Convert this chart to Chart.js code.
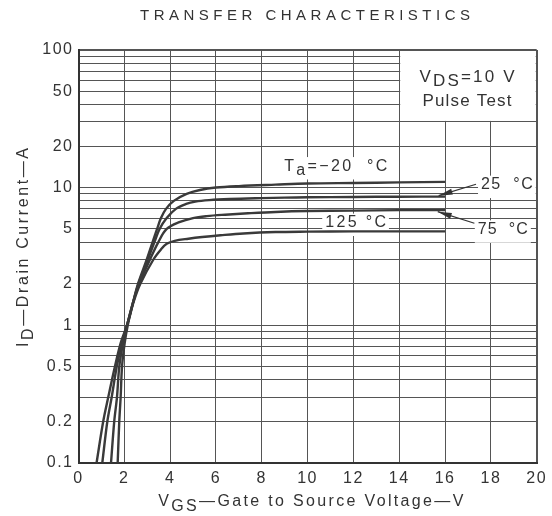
<!DOCTYPE html>
<html><head><meta charset="utf-8">
<script src="https://cdn.jsdelivr.net/npm/chart.js@4.4.1/dist/chart.umd.min.js"></script>
<style>html,body{margin:0;padding:0;background:#fff;}#wrap{width:552px;height:516px;}</style>
</head><body><div id="wrap"><canvas id="c" width="552" height="516"></canvas></div>
<script>
// ---------- data ----------
const chartTitle = 'TRANSFER CHARACTERISTICS';
const xTickValues = [0,2,4,6,8,10,12,14,16,18,20];
const yGridValues = [0.1,0.2,0.3,0.4,0.5,0.6,0.7,0.8,0.9,1,2,3,4,5,6,7,8,9,10,20,30,40,50,60,70,80,90,100];
const yTickLabels = [0.1,0.2,0.5,1,2,5,10,20,50,100];
const tempLabels = ['−20','25','75','125'];

const vgsM20 = [1.71,1.78,1.84,1.90,2.02,2.15,2.40,2.60,2.98,3.23,3.43,3.60,3.82,4.16,4.72,5.30,6.00,7.00,8.60,10.0,12.0,14.0,16.0];
const idM20  = [0.10,0.20,0.30,0.50,0.75,1.00,1.50,2.00,3.00,4.00,5.00,6.00,7.00,8.00,9.00,9.60,10.0,10.25,10.5,10.7,10.8,10.9,11.0];
const vgs25  = [1.42,1.56,1.68,1.78,1.95,2.12,2.40,2.62,3.03,3.31,3.54,3.85,4.25,4.70,5.10,5.70,6.60,8.00,9.00,10.0,12.0,14.0,16.0];
const id25   = [0.10,0.20,0.30,0.50,0.75,1.00,1.50,2.00,3.00,4.00,5.00,6.00,7.00,7.60,7.90,8.10,8.25,8.38,8.45,8.50,8.55,8.58,8.60];
const vgs75  = [1.04,1.26,1.45,1.67,1.90,2.12,2.40,2.65,3.12,3.48,3.85,4.40,5.00,5.60,6.40,7.40,8.60,10.0,12.0,14.0,16.0];
const id75   = [0.10,0.20,0.30,0.50,0.75,1.00,1.50,2.00,3.00,4.00,5.00,5.60,6.00,6.20,6.35,6.50,6.65,6.75,6.80,6.85,6.85];
const vgs125 = [0.79,1.08,1.30,1.59,1.85,2.12,2.42,2.70,3.27,3.60,3.85,4.20,4.80,5.40,6.20,7.20,8.60,10.0,12.0,14.0,16.0];
const id125  = [0.10,0.20,0.30,0.50,0.75,1.00,1.50,2.00,3.00,3.55,3.90,4.10,4.25,4.37,4.50,4.64,4.75,4.78,4.80,4.80,4.80];

// ---------- helpers ----------
const FONT = '"Liberation Sans", Arial, Helvetica, sans-serif';
const INK = '#333';
const toPts = (xs, ys) => xs.map((x, i) => ({x, y: ys[i]}));

function measureParts(ctx, parts) {
  let w = 0; parts.forEach(p => { w += ctx.measureText(p[0]).width; }); return w;
}
function drawRich(ctx, x, y, parts, o) {
  ctx.save();
  ctx.font = o.font; ctx.letterSpacing = '0px';
  let n = 0; parts.forEach(p => n += p[0].length);
  let ls = 0;
  if (o.width) { ls = Math.max(0, (o.width - measureParts(ctx, parts)) / Math.max(1, n - 1)); }
  ctx.letterSpacing = ls + 'px';
  const total = measureParts(ctx, parts) - ls;
  let sx = o.align === 'center' ? x - total / 2 : (o.align === 'right' ? x - total : x);
  if (o.bg) {
    ctx.fillStyle = '#fff';
    ctx.fillRect(sx - 3, y - o.size * 0.85, total + 6, o.size * 1.15 + (o.sub || 0));
  }
  if (!o.bgOnly) {
    ctx.fillStyle = o.color || INK;
    ctx.textAlign = 'left'; ctx.textBaseline = 'alphabetic';
    parts.forEach(p => {
      ctx.fillText(p[0], sx, y + (p[1] ? (o.sub || 5) : 0));
      sx += ctx.measureText(p[0]).width;
    });
  }
  ctx.restore();
}

const curveLabels = [
  {parts: [['T'], ['a', 1], ['=' + tempLabels[0] + '  °C']], x: 8.98, y: 13.27, w: 103},
  {parts: [[tempLabels[1] + '  °C']], x: 17.57, y: 9.72, w: 51.7},
  {parts: [[tempLabels[2] + '  °C']], x: 17.43, y: 4.6, w: 50},
  {parts: [[tempLabels[3] + ' °C']], x: 10.77, y: 5.15, w: 60.7}
];
const arrows = [
  {from: [17.35, 10.57], to: [15.72, 8.73]},
  {from: [17.28, 5.50], to: [15.68, 6.68]}
];

const annot = {
  id: 'annot',
  beforeDraw(chart) { chart.ctx.letterSpacing = '1.5px'; },
  beforeDatasetsDraw(chart) {
    const ctx = chart.ctx; ctx.letterSpacing = '0px';
    const sx = chart.scales.x, sy = chart.scales.y;
    const x0 = sx.getPixelForValue(14), x1 = sx.getPixelForValue(20);
    const y0 = sy.getPixelForValue(100), y1 = sy.getPixelForValue(30);
    ctx.save(); ctx.fillStyle = '#fff';
    ctx.fillRect(x0 + 1, y0 + 1, x1 - x0 - 2, y1 - y0 - 2);
    ctx.restore();
    curveLabels.forEach(l => drawRich(ctx, sx.getPixelForValue(l.x), sy.getPixelForValue(l.y), l.parts,
      {font: '16px ' + FONT, size: 16, width: l.w, bg: true, bgOnly: true, sub: 4}));
  },
  afterDatasetsDraw(chart) {
    const ctx = chart.ctx; ctx.letterSpacing = '0px';
    const sx = chart.scales.x, sy = chart.scales.y;
    curveLabels.forEach(l => drawRich(ctx, sx.getPixelForValue(l.x), sy.getPixelForValue(l.y), l.parts,
      {font: '16px ' + FONT, size: 16, width: l.w, sub: 4}));
    arrows.forEach(a => {
      const fx = sx.getPixelForValue(a.from[0]), fy = sy.getPixelForValue(a.from[1]);
      const tx = sx.getPixelForValue(a.to[0]), ty = sy.getPixelForValue(a.to[1]);
      const ang = Math.atan2(ty - fy, tx - fx);
      ctx.save();
      ctx.strokeStyle = INK; ctx.fillStyle = INK; ctx.lineWidth = 1.2;
      ctx.beginPath(); ctx.moveTo(fx, fy); ctx.lineTo(tx, ty); ctx.stroke();
      const L = 14, W = 3;
      ctx.beginPath();
      ctx.moveTo(tx, ty);
      ctx.lineTo(tx - L * Math.cos(ang) + W * Math.sin(ang), ty - L * Math.sin(ang) - W * Math.cos(ang));
      ctx.lineTo(tx - L * Math.cos(ang) - W * Math.sin(ang), ty - L * Math.sin(ang) + W * Math.cos(ang));
      ctx.closePath(); ctx.fill();
      ctx.restore();
    });
    const cx = (sx.getPixelForValue(14) + sx.getPixelForValue(20)) / 2 - 1;
    drawRich(ctx, cx, sy.getPixelForValue(58.9), [['V'], ['DS', 1], ['=10 V']],
      {font: '17px ' + FONT, size: 17, width: 95, align: 'center', sub: 4});
    drawRich(ctx, cx, sy.getPixelForValue(39.2), [['Pulse Test']],
      {font: '17px ' + FONT, size: 17, width: 89, align: 'center'});
  },
  afterDraw(chart) {
    const ctx = chart.ctx; ctx.letterSpacing = '0px';
    drawRich(ctx, 305, 19.8, [[chartTitle]], {font: '15px ' + FONT, size: 15, width: 330, align: 'center'});
    drawRich(ctx, 310.8, 506, [['V'], ['GS', 1], ['—Gate to Source Voltage—V']],
      {font: '16px ' + FONT, size: 16, width: 305, align: 'center', sub: 5});
    ctx.save();
    ctx.translate(28, 247.5); ctx.rotate(-Math.PI / 2);
    drawRich(ctx, 0, 0, [['I'], ['D', 1], ['—Drain Current—A']],
      {font: '16px ' + FONT, size: 16, width: 199, align: 'center', sub: 5});
    ctx.restore();
  }
};

const edgeWidth = (c) => (c.index === 0 || c.index === c.chart.scales[c.scale.id].ticks.length - 1) ? 2 : 1;

new Chart(document.getElementById('c'), {
  type: 'line',
  data: {
    datasets: [
      {label: tempLabels[0] + ' °C', data: toPts(vgsM20, idM20)},
      {label: tempLabels[1] + ' °C', data: toPts(vgs25, id25)},
      {label: tempLabels[2] + ' °C', data: toPts(vgs75, id75)},
      {label: tempLabels[3] + ' °C', data: toPts(vgs125, id125)}
    ].map(d => Object.assign(d, {borderColor: '#3a3a3a', borderWidth: 2.4, pointRadius: 0,
      tension: 0.35, fill: false}))
  },
  options: {
    responsive: false, animation: false, devicePixelRatio: 1,
    layout: {padding: {top: 50, right: 15.3, left: 0, bottom: 0}},
    plugins: {legend: {display: false}, tooltip: {enabled: false}, title: {display: false}},
    scales: {
      x: {
        type: 'linear', min: 0, max: 20,
        afterBuildTicks: s => { s.ticks = xTickValues.map(v => ({value: v})); },
        afterFit: s => { s.height = 53.3; },
        grid: {color: '#555', lineWidth: edgeWidth, drawTicks: false},
        border: {display: true, color: '#333', width: 2},
        ticks: {autoSkip: false, maxRotation: 0, padding: 6, color: INK, font: {family: FONT, size: 16}}
      },
      y: {
        type: 'logarithmic', min: 0.1, max: 100,
        afterBuildTicks: s => { s.ticks = yGridValues.map(v => ({value: v})); },
        afterFit: s => { s.width = 78.5; },
        grid: {color: '#555', lineWidth: edgeWidth, drawTicks: false},
        border: {display: true, color: '#333', width: 2},
        ticks: {autoSkip: false, padding: 5, color: INK, font: {family: FONT, size: 16},
          callback: v => yTickLabels.includes(v) ? String(v) : ''}
      }
    }
  },
  plugins: [annot]
});
</script></body></html>
